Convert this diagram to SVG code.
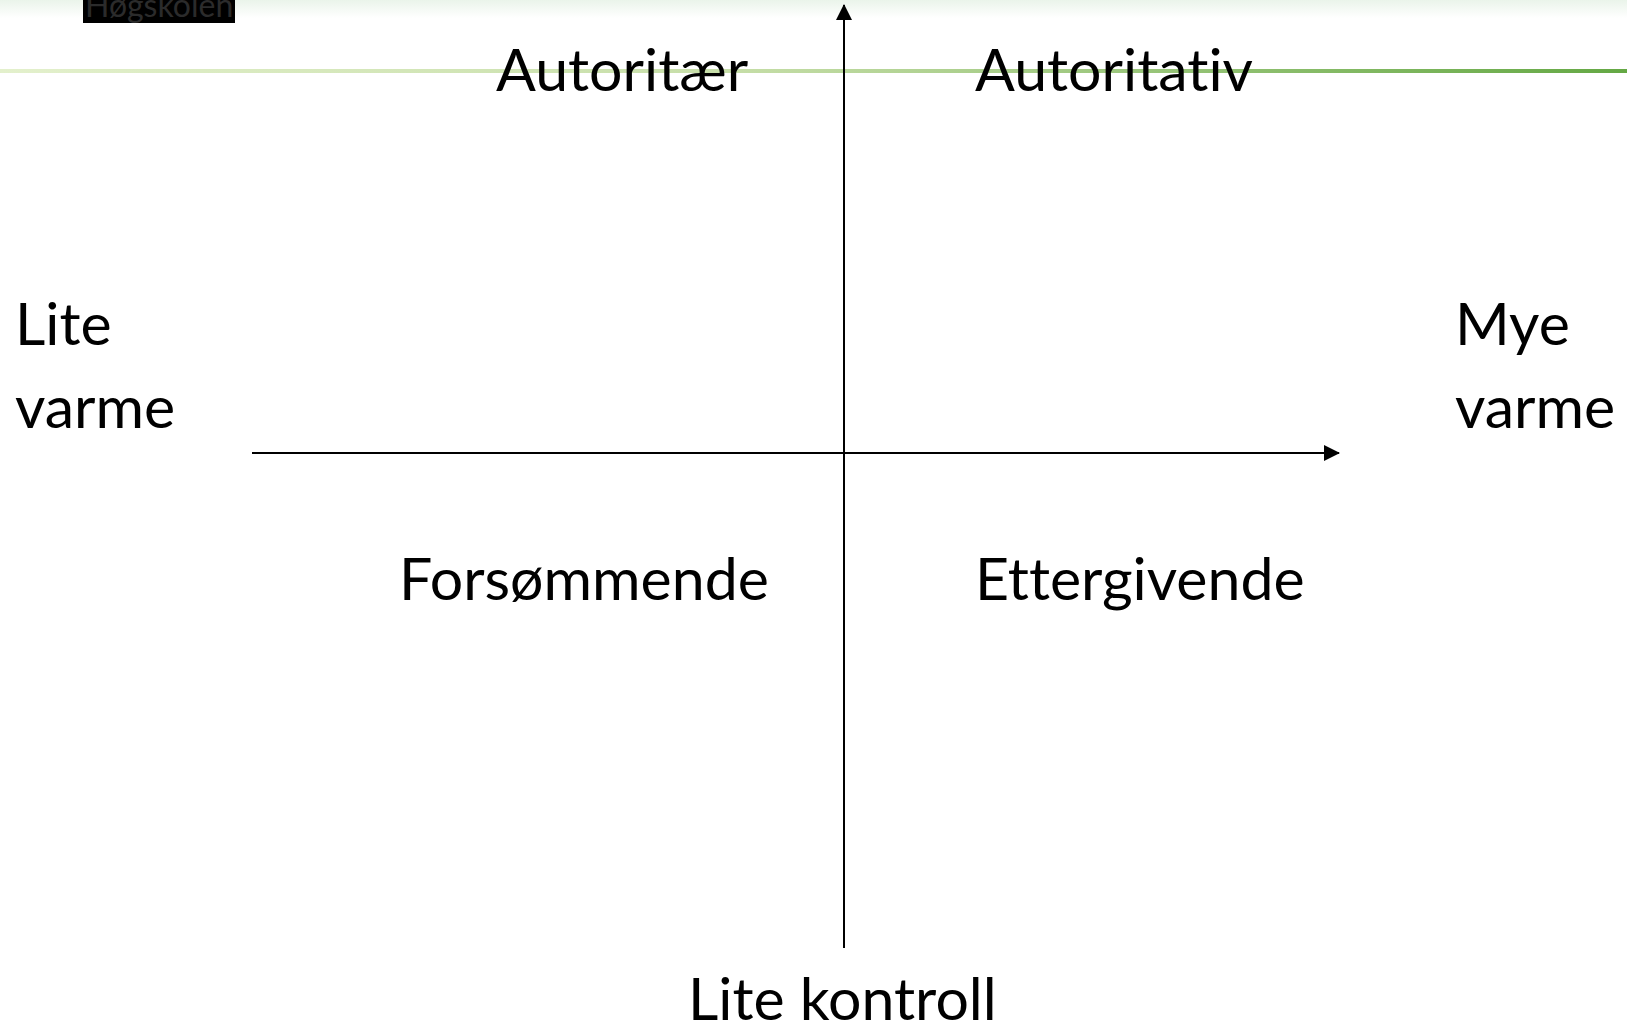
<svg xmlns="http://www.w3.org/2000/svg" width="1627" height="1026" viewBox="0 0 1627 1026">
<style>
.t{font-family:Lato,"Open Sans","Liberation Sans",sans-serif;font-size:59px;fill:#000;font-variant-ligatures:none;font-feature-settings:"liga" 0,"clig" 0}
.ax{stroke:#000;stroke-width:2;fill:none}
</style>
<defs>
<linearGradient id="topband" x1="0" y1="0" x2="0" y2="1">
<stop offset="0" stop-color="#eaf4ea"/>
<stop offset="1" stop-color="#ffffff"/>
</linearGradient>
<linearGradient id="gline" x1="0" y1="0" x2="1" y2="0">
<stop offset="0" stop-color="#e3f0cc"/>
<stop offset="0.45" stop-color="#c6dea8"/>
<stop offset="1" stop-color="#64a844"/>
</linearGradient>
<marker id="arr" viewBox="0 0 16 16" refX="15" refY="8" markerWidth="16" markerHeight="16" markerUnits="userSpaceOnUse" orient="auto">
<path d="M0,0 L16,8 L0,16 Z" fill="#000"/>
</marker>
</defs>
<rect width="1627" height="1026" fill="#fff"/>
<rect x="0" y="0" width="1627" height="18" fill="url(#topband)"/>
<rect x="0" y="69" width="1627" height="4" fill="url(#gline)"/>
<g id="logo">
<rect x="83" y="0" width="152" height="23" fill="#000"/>
<text x="85" y="17" font-family="Lato,'Open Sans',sans-serif" font-size="32" fill="#2b2b2b">Høgskolen</text>
</g>
<g id="connectors">
<line class="ax" x1="844" y1="948" x2="844" y2="5" marker-end="url(#arr)"/>
<line class="ax" x1="252" y1="453" x2="1339" y2="453" marker-end="url(#arr)"/>
</g>
<g id="autoritaer"><text class="t" x="496" y="91">Autoritær</text></g>
<g id="autoritativ"><text class="t" x="975" y="91">Autoritativ</text></g>
<g id="lite-varme"><text class="t" x="15" y="345">Lite</text><text class="t" x="15" y="428">varme</text></g>
<g id="mye-varme"><text class="t" x="1455" y="345">Mye</text><text class="t" x="1455" y="428">varme</text></g>
<g id="forsommende"><text class="t" x="399" y="600">Forsømmende</text></g>
<g id="ettergivende"><text class="t" x="975" y="600">Ettergivende</text></g>
<g id="lite-kontroll"><text class="t" x="688" y="1020">Lite kontroll</text></g>
</svg>
